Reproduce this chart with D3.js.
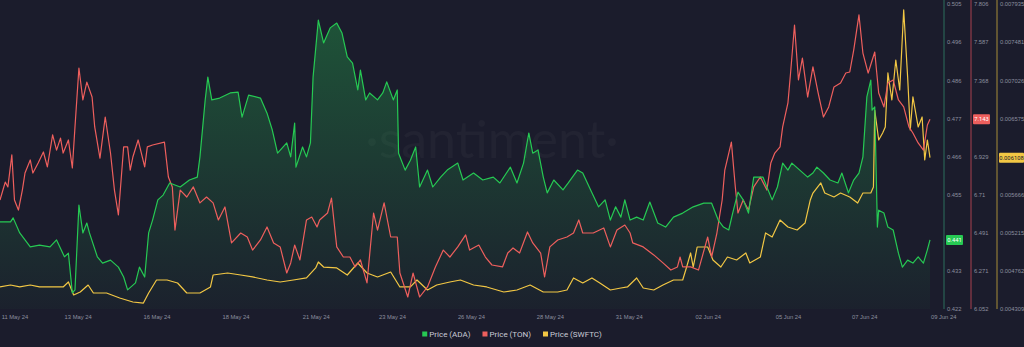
<!DOCTYPE html>
<html>
<head>
<meta charset="utf-8">
<script src="https://cdn.jsdelivr.net/npm/d3@7"></script>
<style>
  html, body { margin: 0; padding: 0; background: #1b1c2c; }
  svg { display: block; font-family: Roboto, "Open Sans", sans-serif; }
</style>
</head>
<body>
<svg id="chart" width="1024" height="347"></svg>
<script>
// hours since the first sample, value
var adaData = [[0,0.4457],[8,0.4457],[10,0.4468],[15,0.4427],[23,0.4389],[30,0.4394],[38,0.4389],[43,0.4408],[49,0.4362],[52,0.4372],[55,0.4264],[57,0.4272],[60,0.4503],[63,0.4427],[66,0.4454],[68,0.4427],[74,0.4362],[78,0.4345],[84,0.4353],[90,0.4334],[94,0.4307],[97,0.4272],[103,0.4291],[106,0.4334],[110,0.4307],[113,0.4427],[116,0.4462],[120,0.4517],[124,0.4530],[129,0.4563],[137,0.4552],[144,0.4571],[150,0.4579],[152,0.4634],[156,0.4789],[158,0.4851],[161,0.4789],[167,0.4794],[175,0.4808],[181,0.4810],[184,0.4742],[189,0.4802],[198,0.4794],[203,0.4753],[207,0.4707],[211,0.4644],[218,0.4672],[221,0.4634],[224,0.4726],[225,0.4606],[230,0.4661],[233,0.4634],[236,0.4672],[238,0.4851],[242,0.5006],[246,0.4944],[251,0.4985],[256,0.4998],[260,0.4971],[264,0.4906],[268,0.4889],[272,0.4816],[274,0.4870],[278,0.4789],[281,0.4808],[287,0.4789],[291,0.4808],[294,0.4838],[299,0.4789],[302,0.4816],[303,0.4644],[308,0.4598],[312,0.4625],[316,0.4661],[319,0.4552],[325,0.4598],[329,0.4552],[335,0.4579],[340,0.4598],[348,0.4617],[352,0.4571],[360,0.4590],[367,0.4571],[375,0.4579],[380,0.4563],[388,0.4606],[393,0.4563],[398,0.4617],[402,0.4699],[405,0.4644],[409,0.4653],[413,0.4579],[416,0.4536],[421,0.4571],[428,0.4544],[432,0.4563],[439,0.4598],[443,0.4590],[449,0.4544],[455,0.4498],[460,0.4517],[464,0.4462],[468,0.4498],[472,0.4470],[475,0.4517],[479,0.4462],[484,0.4470],[489,0.4462],[494,0.4511],[500,0.4454],[506,0.4443],[512,0.4470],[519,0.4481],[527,0.4498],[535,0.4508],[541,0.4508],[546,0.4462],[550,0.4443],[554,0.4435],[557,0.4481],[561,0.4538],[565,0.4517],[569,0.4481],[573,0.4579],[580,0.4579],[583,0.4552],[587,0.4517],[591,0.4552],[595,0.4617],[599,0.4598],[602,0.4617],[608,0.4598],[614,0.4579],[618,0.4590],[621,0.4606],[626,0.4590],[631,0.4571],[637,0.4563],[640,0.4590],[645,0.4536],[649,0.4571],[653,0.4590],[656,0.4634],[659,0.4797],[662,0.4843],[663,0.4761],[665,0.4770],[667,0.4443],[668,0.4489],[672,0.4481],[675,0.4443],[679,0.4435],[683,0.4372],[686,0.4334],[690,0.4353],[694,0.4345],[698,0.4362],[702,0.4345],[705,0.4381],[707,0.4408]];

var tonData = [[0,6.679],[4,6.782],[6,6.754],[9,6.938],[11,6.679],[14,6.621],[17,6.736],[19,6.834],[23,6.909],[25,6.834],[29,6.892],[33,6.955],[36,6.869],[40,7.053],[43,6.966],[46,7.035],[48,6.949],[52,7.024],[55,6.863],[57,7.099],[60,7.438],[63,7.254],[66,7.357],[70,7.271],[72,7.099],[76,6.920],[80,7.156],[84,6.949],[87,6.736],[90,6.593],[94,6.984],[97,6.984],[99,6.851],[101,6.926],[105,7.024],[110,6.869],[112,6.984],[116,6.995],[125,7.012],[128,6.811],[131,6.754],[133,6.506],[137,6.736],[142,6.696],[147,6.754],[152,6.662],[157,6.696],[162,6.662],[166,6.564],[171,6.639],[176,6.432],[183,6.489],[188,6.466],[192,6.391],[198,6.449],[203,6.524],[208,6.432],[213,6.409],[218,6.259],[221,6.317],[224,6.420],[228,6.334],[233,6.564],[237,6.581],[241,6.524],[243,6.564],[249,6.604],[252,6.690],[256,6.409],[261,6.351],[266,6.351],[270,6.294],[274,6.334],[279,6.202],[284,6.604],[287,6.506],[292,6.662],[297,6.466],[302,6.466],[304,6.259],[310,6.121],[314,6.259],[319,6.121],[325,6.179],[331,6.294],[337,6.391],[342,6.351],[348,6.409],[354,6.478],[357,6.391],[364,6.420],[369,6.351],[374,6.305],[382,6.294],[386,6.374],[390,6.403],[395,6.374],[401,6.495],[405,6.432],[411,6.374],[414,6.236],[418,6.409],[424,6.449],[431,6.466],[436,6.489],[440,6.564],[443,6.489],[451,6.489],[459,6.518],[464,6.409],[469,6.506],[475,6.535],[479,6.489],[481,6.432],[489,6.409],[497,6.363],[504,6.317],[510,6.276],[515,6.294],[517,6.351],[519,6.294],[525,6.294],[531,6.276],[538,6.466],[541,6.351],[545,6.489],[549,6.679],[551,6.851],[556,7.012],[559,6.754],[561,6.604],[565,6.679],[569,6.621],[573,6.754],[578,6.811],[583,6.736],[586,6.892],[589,6.949],[593,6.984],[595,7.099],[599,7.237],[601,7.409],[604,7.685],[607,7.369],[610,7.495],[614,7.271],[618,7.444],[622,7.294],[626,7.156],[630,7.214],[634,7.329],[639,7.352],[643,7.409],[646,7.415],[649,7.541],[653,7.743],[656,7.524],[660,7.409],[665,7.530],[668,7.294],[672,7.214],[675,7.352],[679,7.369],[683,7.254],[687,7.214],[691,7.099],[694,7.064],[698,7.007],[702,6.966],[705,7.110],[707,7.143]];

var swftcData = [[0,0.004571],[8,0.004594],[15,0.004571],[23,0.004594],[30,0.004571],[38,0.004571],[48,0.004571],[52,0.004630],[56,0.004476],[61,0.004511],[67,0.004594],[71,0.004499],[81,0.004499],[91,0.004440],[101,0.004392],[109,0.004380],[113,0.004499],[119,0.004654],[127,0.004654],[135,0.004618],[142,0.004499],[152,0.004499],[160,0.004571],[162,0.004713],[173,0.004737],[183,0.004713],[192,0.004690],[203,0.004654],[213,0.004630],[223,0.004654],[233,0.004678],[240,0.004797],[242,0.004868],[246,0.004808],[256,0.004797],[264,0.004713],[272,0.004856],[279,0.004737],[287,0.004690],[297,0.004749],[304,0.004571],[312,0.004571],[317,0.004654],[325,0.004535],[332,0.004594],[342,0.004630],[350,0.004654],[360,0.004594],[370,0.004571],[383,0.004511],[393,0.004535],[403,0.004594],[413,0.004511],[424,0.004511],[431,0.004535],[436,0.004678],[443,0.004618],[450,0.004678],[456,0.004618],[464,0.004535],[472,0.004559],[477,0.004571],[484,0.004678],[489,0.004559],[497,0.004535],[504,0.004594],[512,0.004654],[519,0.004654],[522,0.004808],[525,0.004975],[527,0.004808],[530,0.005046],[538,0.005046],[542,0.004892],[548,0.004808],[553,0.004927],[560,0.004892],[567,0.004975],[570,0.004856],[578,0.004927],[582,0.005213],[587,0.005165],[593,0.005367],[599,0.005284],[606,0.005248],[612,0.005331],[616,0.005605],[618,0.005688],[624,0.005807],[627,0.005688],[634,0.005641],[639,0.005688],[646,0.005641],[652,0.005569],[656,0.005688],[662,0.005688],[664,0.005759],[665,0.006675],[668,0.006318],[671,0.006402],[673,0.006473],[675,0.007115],[678,0.006794],[681,0.007269],[684,0.006913],[687,0.007864],[690,0.007067],[692,0.006437],[694,0.006830],[698,0.006473],[701,0.006592],[703,0.006081],[705,0.006318],[707,0.006108]];

// x axis ticks (hours since first sample) and their labels
var xTickHours = [11, 59, 119, 179, 240, 298, 358, 418, 478, 538, 599, 657, 717];
var xTickLabels = ["11 May 24", "13 May 24", "16 May 24", "18 May 24", "21 May 24", "23 May 24", "26 May 24", "28 May 24", "31 May 24", "02 Jun 24", "05 Jun 24", "07 Jun 24", "09 Jun 24"];

// right axes labels, bottom to top
var adaTicks = ["0.422", "0.433", "0.444", "0.455", "0.466", "0.477", "0.486", "0.496", "0.505"];
var tonTicks = ["6.052", "6.271", "6.491", "6.71", "6.929", "7.149", "7.368", "7.587", "7.806"];
var swftcTicks = ["0.004309", "0.004762", "0.005215", "0.005666", "0.006122", "0.006575", "0.007026", "0.007481", "0.007935"];

var legendNames = ["Price (ADA)", "Price (TON)", "Price (SWFTC)"];
var colors = ["#26c953", "#ee5f5d", "#f2c744"];
var axisColors = ["#2c6f5c", "#a9414f", "#a88d38"];

var svg = d3.select("#chart");
var plotTop = 4, plotBottom = 309;

svg.append("rect").attr("width", 1024).attr("height", 347).attr("fill", "#1b1c2c");

var x = d3.scaleLinear().domain([0, 707]).range([0, 930]);
var yAda = d3.scaleLinear().domain([0.422, 0.505]).range([plotBottom, plotTop]);
var yTon = d3.scaleLinear().domain([6.052, 7.806]).range([plotBottom, plotTop]);
var ySwftc = d3.scaleLinear().domain([0.004309, 0.007935]).range([plotBottom, plotTop]);

// watermark
svg.append("text")
    .attr("x", 492)
    .attr("y", 158)
    .attr("text-anchor", "middle")
    .attr("font-size", "52px")
    .attr("font-family", "Lato, sans-serif")
    .attr("fill", "#ffffff")
    .attr("fill-opacity", 0.03)
    .text("·santiment·");

// ADA area gradient
var grad = svg.append("defs").append("linearGradient")
    .attr("id", "adaFill")
    .attr("gradientUnits", "userSpaceOnUse")
    .attr("x1", 0).attr("y1", 20).attr("x2", 0).attr("y2", plotBottom);
grad.append("stop").attr("offset", "0").attr("stop-color", "#26c953").attr("stop-opacity", 0.32);
grad.append("stop").attr("offset", "1").attr("stop-color", "#26c953").attr("stop-opacity", 0.03);

svg.append("path")
    .datum(adaData)
    .attr("fill", "url(#adaFill)")
    .attr("d", d3.area()
        .x(function(d) { return x(d[0]); })
        .y0(plotBottom)
        .y1(function(d) { return yAda(d[1]); }));

var series = [
    {data: swftcData, y: ySwftc, color: colors[2]},
    {data: tonData, y: yTon, color: colors[1]},
    {data: adaData, y: yAda, color: colors[0]}
];
series.forEach(function(s) {
    svg.append("path")
        .datum(s.data)
        .attr("fill", "none")
        .attr("stroke", s.color)
        .attr("stroke-width", 1.2)
        .attr("stroke-linejoin", "round")
        .attr("d", d3.line()
            .x(function(d) { return x(d[0]); })
            .y(function(d) { return s.y(d[1]); }));
});

// x axis labels
var xAxis = d3.axisBottom(x)
    .tickValues(xTickHours)
    .tickSize(0)
    .tickFormat(function(d, i) { return xTickLabels[i]; });
var gx = svg.append("g").attr("transform", "translate(0,311)").call(xAxis);
gx.select(".domain").remove();
gx.selectAll("text").attr("fill", "#8b8e9f").attr("font-size", "5.8px").attr("dy", "0.9em");

// last values
var adaLast = adaData[adaData.length - 1][1];
var tonLast = tonData[tonData.length - 1][1];
var swftcLast = swftcData[swftcData.length - 1][1];

// right axes
function rightAxis(scale, labels, xPos, color, lastVal) {
    var lo = scale.domain()[0], hi = scale.domain()[1];
    var vals = labels.map(function(d, i) { return lo + i * (hi - lo) / (labels.length - 1); });
    var g = svg.append("g")
        .attr("transform", "translate(" + xPos + ",0)")
        .call(d3.axisRight(scale).tickValues(vals).tickSize(0).tickPadding(3)
            .tickFormat(function(d, i) { return labels[i]; }));
    g.select(".domain").remove();
    g.selectAll("text").attr("fill", "#8b8e9f").attr("font-size", "5.8px");
    // hide the label that sits under the last value badge
    g.selectAll(".tick").filter(function(d) { return Math.abs(scale(d) - scale(lastVal)) < 8; }).remove();
    svg.append("line")
        .attr("x1", xPos).attr("x2", xPos)
        .attr("y1", 0).attr("y2", plotBottom)
        .attr("stroke", color).attr("stroke-width", 1);
}
rightAxis(yAda, adaTicks, 944, axisColors[0], adaLast);
rightAxis(yTon, tonTicks, 971, axisColors[1], tonLast);
rightAxis(ySwftc, swftcTicks, 997, axisColors[2], swftcLast);

// last value badges
function badge(xPos, w, yPos, fill, textColor, label) {
    svg.append("rect")
        .attr("x", xPos).attr("y", yPos - 5)
        .attr("width", w).attr("height", 10)
        .attr("rx", 1)
        .attr("fill", fill);
    svg.append("text")
        .attr("x", xPos + w / 2).attr("y", yPos)
        .attr("dy", "0.35em")
        .attr("text-anchor", "middle")
        .attr("font-size", "5.8px")
        .attr("fill", textColor)
        .text(label);
}
badge(946, 17, yAda(adaLast), colors[0], "#ffffff", d3.format(".3f")(adaLast));
badge(973, 17, yTon(tonLast), "#ee5f5d", "#ffffff", d3.format(".3f")(tonLast));
badge(999, 25, ySwftc(swftcLast), "#f2c744", "#1b1c2c", d3.format(".6f")(swftcLast));

// legend
var legend = svg.append("g");
var lx = 0;
legendNames.forEach(function(name, i) {
    var item = legend.append("g").attr("transform", "translate(" + lx + ",0)");
    item.append("rect")
        .attr("x", 0).attr("y", -2.5)
        .attr("width", 5).attr("height", 5)
        .attr("fill", colors[i]);
    var t = item.append("text")
        .attr("x", 7).attr("y", 0)
        .attr("dy", "0.35em")
        .attr("font-size", "8px")
        .attr("fill", "#c9cbd6")
        .text(name);
    lx += 7 + t.node().getComputedTextLength() + 12;
});
legend.attr("transform", "translate(" + (512 - (lx - 12) / 2) + ",334)");
</script>
</body>
</html>
